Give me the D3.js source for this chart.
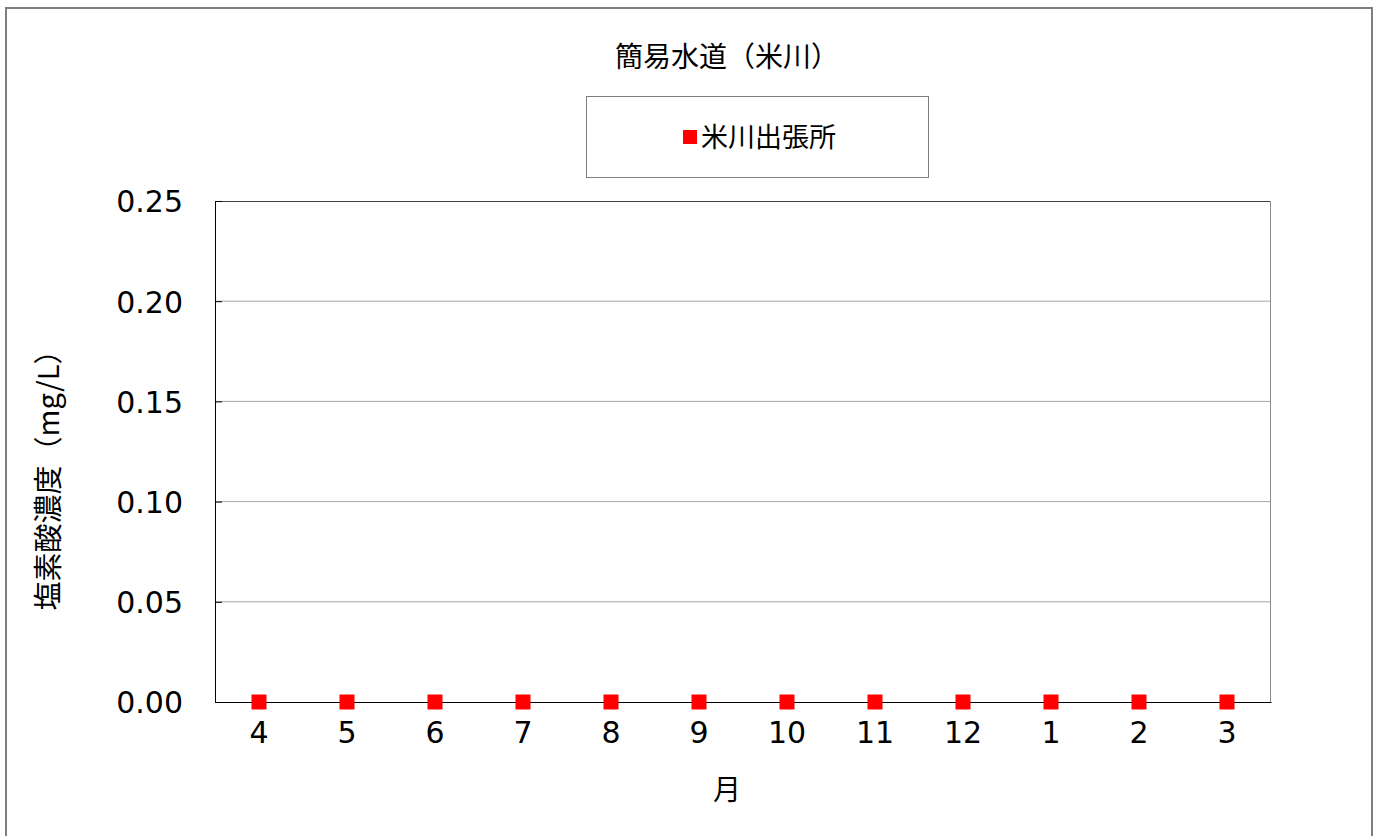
<!DOCTYPE html>
<html>
<head>
<meta charset="utf-8">
<script src="https://cdn.jsdelivr.net/npm/d3@7"></script>
<style>
  body { margin: 0; background: #fff; }
  svg { display: block; }
  text { fill: #000; }
</style>
</head>
<body>
<svg id="chart" width="1380" height="836"></svg>
<script>
// months of the fiscal year (April -> March)
const months = ['4', '5', '6', '7', '8', '9', '10', '11', '12', '1', '2', '3']
// chlorate concentration at the Yonekawa branch (mg/L)
const yonekawa = [0, 0, 0, 0, 0, 0, 0, 0, 0, 0, 0, 0]
// y axis ticks
const yTicks = [0, 0.05, 0.10, 0.15, 0.20, 0.25]

const cjk = '"Noto Sans CJK JP", "Noto Sans", sans-serif'
const num = '"DejaVu Sans", "Noto Sans", sans-serif'

function makeChart() {
  const svg = d3.select('#chart')
  const margin = { left: 215, top: 201, right: 109, bottom: 134 }
  const width = 1380 - margin.left - margin.right
  const height = 836 - margin.top - margin.bottom

  // outer chart frame (bottom edge runs off the picture)
  svg.append('rect')
    .attr('x', 6).attr('y', 8)
    .attr('width', 1366).attr('height', 840)
    .attr('fill', 'none')
    .attr('stroke', '#7f7f7f')
    .attr('stroke-width', 2)

  // title
  svg.append('text')
    .attr('x', 727).attr('y', 67)
    .attr('text-anchor', 'middle')
    .style('font-family', cjk)
    .style('font-size', '28px')
    .text('簡易水道（米川）')

  const x = d3.scaleBand().domain(months).range([0, width])
  const y = d3.scaleLinear().domain([0, 0.25]).range([height, 0])

  const g = svg.append('g')
    .attr('transform', `translate(${margin.left},${margin.top})`)

  // grid lines
  g.selectAll('line.grid')
    .data(yTicks.slice(1, -1))
    .enter()
    .append('line')
    .attr('class', 'grid')
    .attr('x1', 0).attr('x2', width)
    .attr('y1', d => y(d)).attr('y2', d => y(d))
    .attr('stroke', '#a6a6a6')
    .attr('stroke-width', 1)

  // plot border: top and right
  g.append('line')
    .attr('x1', 0).attr('x2', width).attr('y1', 0.5).attr('y2', 0.5)
    .attr('stroke', '#404040')
  g.append('line')
    .attr('x1', width - 0.5).attr('x2', width - 0.5).attr('y1', 0).attr('y2', height)
    .attr('stroke', '#8c8c8c')

  // y axis with inner ticks
  const yAxis = g.append('g')
    .call(d3.axisLeft(y).tickValues(yTicks).tickFormat(d3.format('.2f'))
      .tickSizeInner(-7).tickSizeOuter(0).tickPadding(32))
  yAxis.select('.domain').attr('stroke', '#000')
  yAxis.selectAll('.tick line').attr('stroke', '#000')
  yAxis.selectAll('.tick text')
    .attr('fill', '#000')
    .style('font-family', num)
    .style('font-size', '30px')
    .attr('dy', '0.36em')

  // x axis
  const xAxis = g.append('g')
    .attr('transform', `translate(0,${height})`)
    .call(d3.axisBottom(x).tickSize(0).tickPadding(20))
  xAxis.select('.domain').attr('stroke', '#000')
  xAxis.selectAll('.tick text')
    .attr('fill', '#000')
    .style('font-family', num)
    .style('font-size', '30px')

  // axis titles
  svg.append('text')
    .attr('transform', 'translate(59,473) rotate(-90)')
    .attr('text-anchor', 'middle')
    .style('font-family', cjk)
    .style('font-size', '29px')
    .text('塩素酸濃度（mg/L）')
  svg.append('text')
    .attr('x', 727).attr('y', 800)
    .attr('text-anchor', 'middle')
    .style('font-family', cjk)
    .style('font-size', '28px')
    .text('月')

  // markers
  const size = 15
  g.selectAll('rect.pt')
    .data(yonekawa)
    .enter()
    .append('rect')
    .attr('class', 'pt')
    .attr('x', (d, i) => x(months[i]) + x.bandwidth() / 2 - size / 2)
    .attr('y', d => y(d) - size / 2)
    .attr('width', size).attr('height', size)
    .attr('fill', '#ff0000')

  // legend
  const legend = svg.append('g')
  legend.append('rect')
    .attr('x', 586.5).attr('y', 96.5)
    .attr('width', 342).attr('height', 81)
    .attr('fill', '#fff')
    .attr('stroke', '#7f7f7f')
  legend.append('rect')
    .attr('x', 683).attr('y', 130)
    .attr('width', 14).attr('height', 14)
    .attr('fill', '#ff0000')
  legend.append('text')
    .attr('x', 701).attr('y', 147)
    .style('font-family', cjk)
    .style('font-size', '27px')
    .text('米川出張所')
}

window.onload = makeChart
</script>
</body>
</html>
